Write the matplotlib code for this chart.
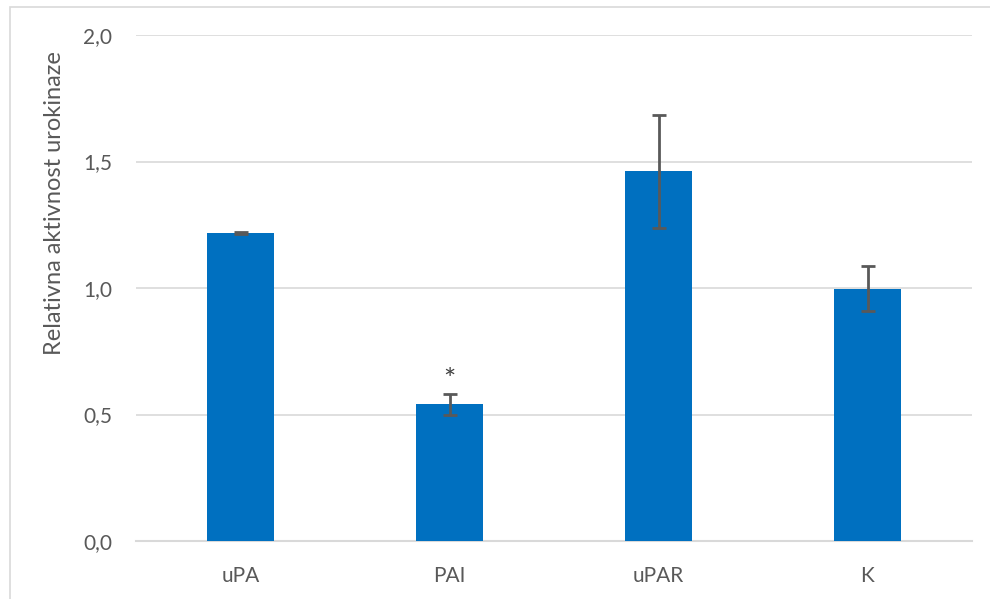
import numpy as np
import matplotlib.pyplot as plt
from matplotlib.patches import Rectangle

categories = ['uPA', 'PAI', 'uPAR', 'K']
values = [1.218, 0.540, 1.462, 0.998]
errors = [0.003, 0.040, 0.223, 0.087]
yticks = [0.0, 0.5, 1.0, 1.5, 2.0]

plt.rcParams['font.family'] = ['Lato', 'DejaVu Sans']

fig = plt.figure(figsize=(9.9, 5.99), dpi=100)
# outer chart border (Excel style)
fig.patches.append(Rectangle((10 / 990, -0.05), 1.1, 1 - 7 / 599 + 0.05,
                             transform=fig.transFigure, fill=False,
                             edgecolor='#d9d9d9', linewidth=1.2))

ax = fig.add_axes([136 / 990, 58 / 599, 836 / 990, 506 / 599])
x = np.arange(len(categories))
ax.bar(x, values, width=0.316, color='#0070C0', zorder=3)
ax.errorbar(x, values, yerr=errors, fmt='none', ecolor='#595959',
            elinewidth=2.0, capsize=4.7, capthick=2.0, zorder=4)

# significance mark above PAI
ax.text(x[1], values[1] + errors[1] + 0.02, '*', ha='center', va='baseline',
        fontsize=21, color='#404040')

ax.set_xlim(-0.5, len(categories) - 0.5)
ax.set_ylim(0, 2.0)
ax.set_yticks(yticks)
ax.set_yticklabels([f'{t:.1f}'.replace('.', ',') for t in yticks])
ax.set_xticks(x)
ax.set_xticklabels(categories)
ax.tick_params(length=0, labelsize=15, colors='#595959')
ax.tick_params(axis='y', pad=17)
ax.tick_params(axis='x', pad=18)
ax.grid(axis='y', color='#d9d9d9', linewidth=1.2, zorder=0)
for s in ['top', 'right', 'left']:
    ax.spines[s].set_visible(False)
ax.spines['bottom'].set_color('#d9d9d9')
ax.spines['bottom'].set_linewidth(1.5)

fig.text(55 / 990, 1 - 203 / 599, 'Relativna aktivnost urokinaze',
         rotation=90, ha='center', va='center', fontsize=17,
         color='#595959')

fig.savefig('out.png', dpi=100)
